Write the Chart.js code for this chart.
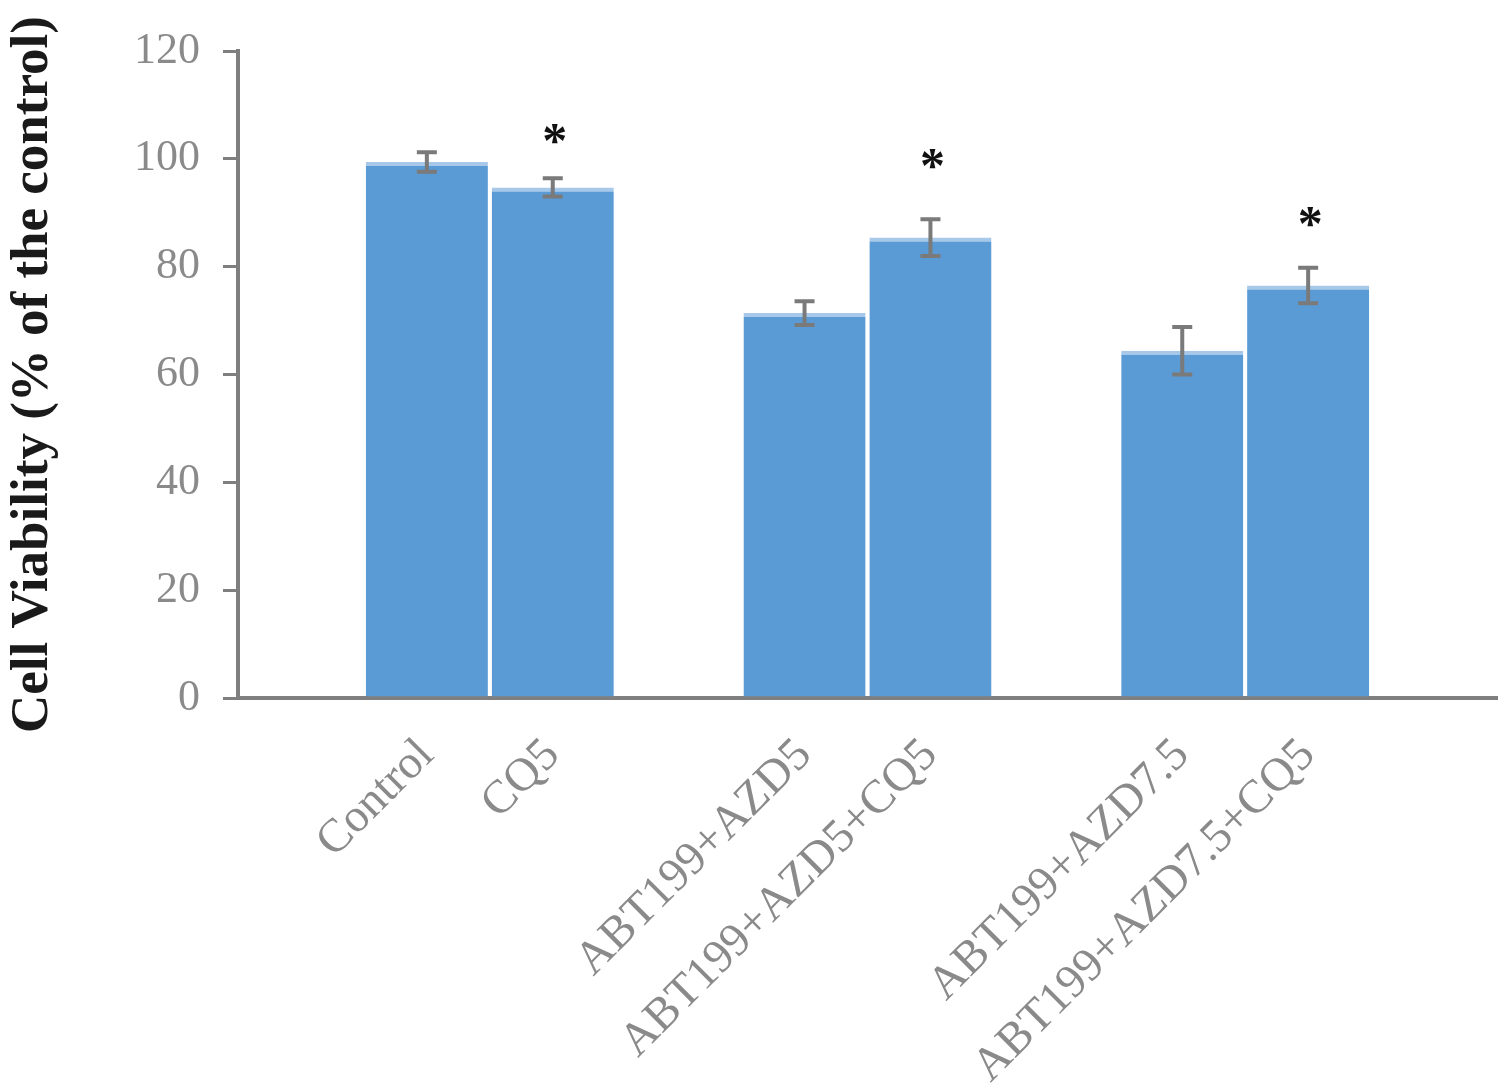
<!DOCTYPE html>
<html>
<head>
<meta charset="utf-8">
<script src="https://cdn.jsdelivr.net/npm/chart.js@4.4.1/dist/chart.umd.min.js"></script>
<style>
  html, body { margin: 0; padding: 0; background: #fff; }
  #wrap { width: 1500px; height: 1092px; }
</style>
</head>
<body>
<div id="wrap"><canvas id="c" width="1500" height="1092"></canvas></div>
<script>
// ---- data ----
const categories = ["", "Control", "CQ5", "", "ABT199+AZD5", "ABT199+AZD5+CQ5", "", "ABT199+AZD7.5", "ABT199+AZD7.5+CQ5", ""];
const viability  = [null, 99.4, 94.7, null, 71.4, 85.4, null, 64.4, 76.5, null];
const errors     = [null, 1.8, 1.7, null, 2.2, 3.4, null, 4.4, 3.3, null];
const sigMarkY   = [null, null, 104.2, null, null, 99.6, null, null, 88.9, null];
const sigMark    = "*";
const yTicks     = [0, 20, 40, 60, 80, 100, 120];
const yTitle     = "Cell Viability (% of the control)";

const serif = "'Liberation Serif', 'Times New Roman', serif";

const errorBarPlugin = {
  id: 'errorBars',
  afterDatasetsDraw(chart) {
    const ctx = chart.ctx;
    const meta = chart.getDatasetMeta(0);
    const y = chart.scales.y;
    ctx.save();
    ctx.strokeStyle = '#7a7a7a';
    ctx.lineWidth = 4;
    meta.data.forEach((bar, i) => {
      if (viability[i] == null || errors[i] == null) return;
      const x = bar.x;
      const yHi = y.getPixelForValue(viability[i] + errors[i]);
      const yLo = y.getPixelForValue(viability[i] - errors[i]);
      ctx.beginPath();
      ctx.moveTo(x, yHi); ctx.lineTo(x, yLo);
      ctx.moveTo(x - 10, yHi); ctx.lineTo(x + 10, yHi);
      ctx.moveTo(x - 10, yLo); ctx.lineTo(x + 10, yLo);
      ctx.stroke();
    });
    // significance marks
    ctx.fillStyle = '#111';
    ctx.font = 'bold 50px ' + serif;
    ctx.textAlign = 'center';
    ctx.textBaseline = 'alphabetic';
    meta.data.forEach((bar, i) => {
      if (sigMarkY[i] == null) return;
      const py = y.getPixelForValue(sigMarkY[i]);
      ctx.fillText(sigMark, bar.x + 2, py + 21);
    });
    ctx.restore();
  }
};

new Chart(document.getElementById('c'), {
  type: 'bar',
  data: {
    labels: categories,
    datasets: [{
      data: viability,
      backgroundColor: '#5b9bd5',
      borderColor: '#a8c8ea',
      borderWidth: { top: 4, left: 0, right: 0, bottom: 0 },
      borderSkipped: false,
      barPercentage: 0.97,
      categoryPercentage: 1.0
    }]
  },
  options: {
    responsive: false,
    animation: false,
    devicePixelRatio: 1,
    layout: { padding: { top: 51, right: 3, left: 0, bottom: 0 } },
    plugins: { legend: { display: false }, tooltip: { enabled: false } },
    scales: {
      x: {
        grid: { display: false },
        border: { display: true, color: '#7f7f7f', width: 4 },
        ticks: {
          color: '#8a8a8a',
          font: { family: serif, size: 47 },
          minRotation: 45, maxRotation: 45,
          padding: 22,
          autoSkip: false
        },
        afterFit(scale) { scale.height = 394; }
      },
      y: {
        min: 0, max: 120,
        afterBuildTicks(scale) { scale.ticks = yTicks.map(v => ({ value: v })); },
        grid: { display: true, drawOnChartArea: false, drawTicks: true, tickLength: 15, color: '#7f7f7f', lineWidth: 3 },
        border: { display: true, color: '#7f7f7f', width: 4 },
        ticks: {
          color: '#8a8a8a',
          font: { family: serif, size: 44 },
          padding: 23
        },
        title: {
          display: true,
          text: yTitle,
          color: '#1a1a1a',
          font: { family: serif, size: 53, weight: 'bold' },
          padding: { top: 2, bottom: 0 }
        },
        afterFit(scale) { scale.width = 238; }
      }
    }
  },
  plugins: [errorBarPlugin]
});
</script>
</body>
</html>
